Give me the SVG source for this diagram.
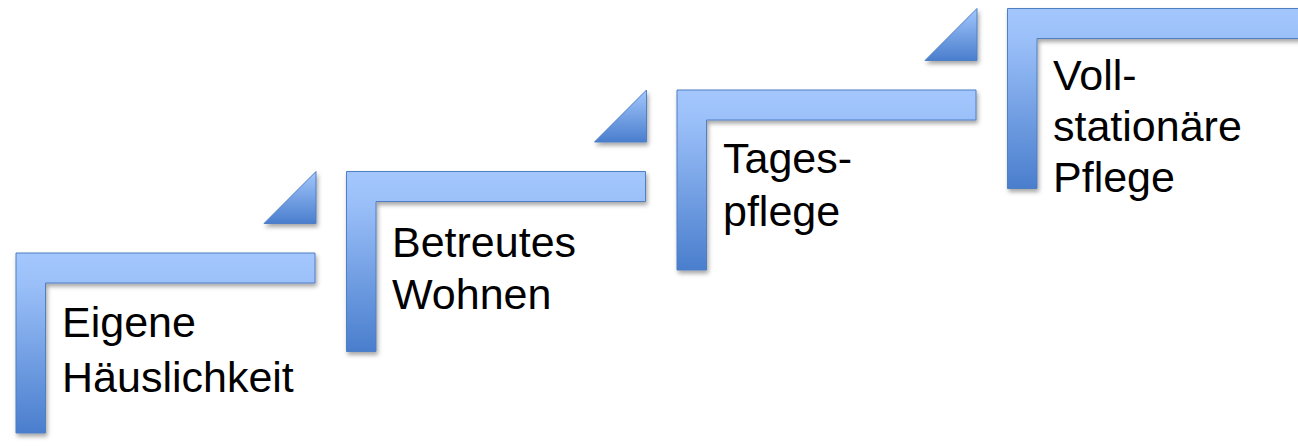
<svg xmlns="http://www.w3.org/2000/svg" width="1298" height="446" viewBox="0 0 1298 446">
  <defs>
    <linearGradient id="g" x1="0" y1="0" x2="0" y2="1">
      <stop offset="0" stop-color="#a3c7fd"/>
      <stop offset="0.17" stop-color="#9bc0f9"/>
      <stop offset="1" stop-color="#4a7ecd"/>
    </linearGradient>
    <linearGradient id="gt" x1="0" y1="0" x2="0" y2="1">
      <stop offset="0" stop-color="#a3c7fd"/>
      <stop offset="1" stop-color="#4a7ecd"/>
    </linearGradient>
    <filter id="sh" x="-10%" y="-10%" width="130%" height="130%">
      <feDropShadow dx="1.5" dy="3" stdDeviation="2" flood-color="#000" flood-opacity="0.35"/>
    </filter>
  </defs>
  <style>
    .step { fill: url(#g); stroke: #4f7fc4; stroke-width: 1; filter: url(#sh); }
    .tri { fill: url(#gt); stroke: #4f7fc4; stroke-width: 1; filter: url(#sh); }
    .lbl { font-family: "Liberation Sans", Arial, sans-serif; font-size: 43px; fill: #000; }
  </style>
  <rect width="1298" height="446" fill="#fff"/>
  <g id="step1">
    <path class="step" d="M16 253 h299 v30 h-269.5 v150 h-29.5 z"/>
    <text class="lbl" x="62" y="337">Eigene</text>
    <text class="lbl" x="62" y="392">Häuslichkeit</text>
  </g>
  <g id="step2">
    <polygon class="tri" points="264,223.5 316,171.5 316,223.5"/>
    <path class="step" d="M346.5 171.5 h299 v30 h-269.5 v150 h-29.5 z"/>
    <text class="lbl" x="392" y="257">Betreutes</text>
    <text class="lbl" x="392" y="309">Wohnen</text>
  </g>
  <g id="step3">
    <polygon class="tri" points="594.5,142 646.5,90 646.5,142"/>
    <path class="step" d="M677 90 h299 v30 h-269.5 v150 h-29.5 z"/>
    <text class="lbl" x="723" y="173">Tages-</text>
    <text class="lbl" x="723" y="226">pflege</text>
  </g>
  <g id="step4">
    <polygon class="tri" points="925,60.5 977,8.5 977,60.5"/>
    <path class="step" d="M1007.5 8.5 h299 v30 h-269.5 v150 h-29.5 z"/>
    <text class="lbl" x="1053" y="90">Voll-</text>
    <text class="lbl" x="1053" y="141">stationäre</text>
    <text class="lbl" x="1053" y="192">Pflege</text>
  </g>
  <g id="connectors"/>
</svg>
